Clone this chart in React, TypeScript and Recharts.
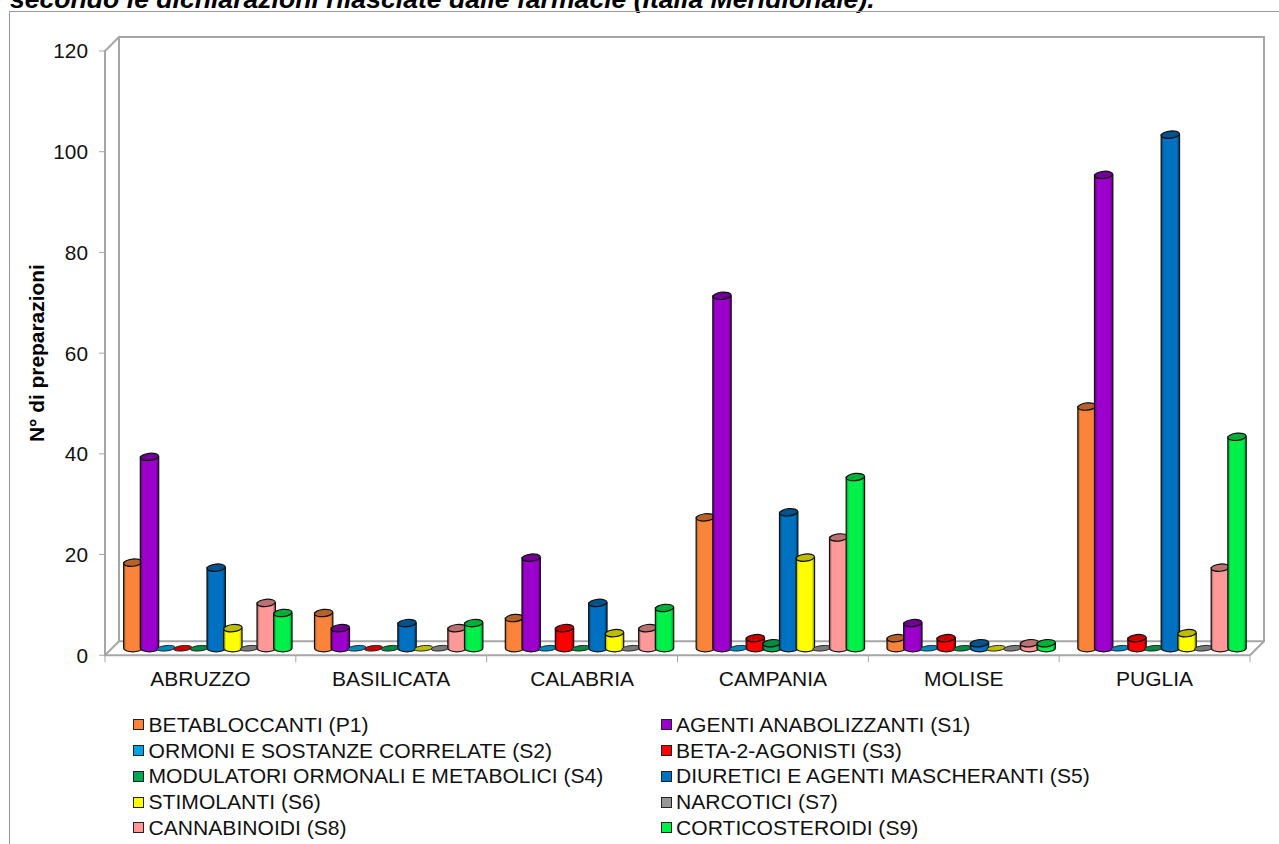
import React from "react";
import { BarChart, Bar, XAxis, YAxis, Legend, ReferenceArea, Label } from "recharts";

const regions = ["ABRUZZO", "BASILICATA", "CALABRIA", "CAMPANIA", "MOLISE", "PUGLIA"];
const yTicks = [0, 20, 40, 60, 80, 100, 120];

const p1 = [17, 7, 6, 26, 2, 48];
const s1 = [38, 4, 18, 70, 5, 94];
const s2 = [0, 0, 0, 0, 0, 0];
const s3 = [0, 0, 4, 2, 2, 2];
const s4 = [0, 0, 0, 1, 0, 0];
const s5 = [16, 5, 9, 27, 1, 102];
const s6 = [4, 0, 3, 18, 0, 3];
const s7 = [0, 0, 0, 0, 0, 0];
const s8 = [9, 4, 4, 22, 1, 16];
const s9 = [7, 5, 8, 34, 1, 42];

const seriesList = [
  { key: "p1", name: "BETABLOCCANTI (P1)", values: p1, color: "#F9843A", dark: "#B8602A", edge: "#A85A24" },
  { key: "s1", name: "AGENTI ANABOLIZZANTI (S1)", values: s1, color: "#9C00CC", dark: "#700094", edge: "#5C0078" },
  { key: "s2", name: "ORMONI E SOSTANZE CORRELATE (S2)", values: s2, color: "#00A4E4", dark: "#0088BC", edge: "#005F86" },
  { key: "s3", name: "BETA-2-AGONISTI (S3)", values: s3, color: "#FF0000", dark: "#C80000", edge: "#990000" },
  { key: "s4", name: "MODULATORI ORMONALI E METABOLICI (S4)", values: s4, color: "#00A650", dark: "#008A42", edge: "#00602E" },
  { key: "s5", name: "DIURETICI E AGENTI MASCHERANTI (S5)", values: s5, color: "#0070C0", dark: "#00528C", edge: "#004070" },
  { key: "s6", name: "STIMOLANTI (S6)", values: s6, color: "#FFFF00", dark: "#BCBC00", edge: "#999900" },
  { key: "s7", name: "NARCOTICI (S7)", values: s7, color: "#969696", dark: "#7A7A7A", edge: "#585858" },
  { key: "s8", name: "CANNABINOIDI (S8)", values: s8, color: "#FF9999", dark: "#BC7070", edge: "#985A5A" },
  { key: "s9", name: "CORTICOSTEROIDI (S9)", values: s9, color: "#00F04A", dark: "#00B036", edge: "#008C2C" },
];

const rows = regions.map((region, i) => {
  const row: Record<string, string | number> = { region };
  seriesList.forEach((s) => {
    row[s.key] = s.values[i];
  });
  return row;
});

const FONT = "'Liberation Sans', Arial, sans-serif";
const AXIS_GRAY = "#A6A6A6";
const DEPTH_X = 14;
const DEPTH_Y = 14;

// Back wall, side wall and floor of the 3D box, plus category separators.
function Box(props: any) {
  const { x, y, width, height } = props;
  const b = y + height;
  const r = x + width;
  const step = width / regions.length;
  const stroke = { stroke: AXIS_GRAY, strokeWidth: 2, fill: "none" };
  return (
    <g>
      <path
        d={`M${x} ${y} L${x + DEPTH_X} ${y - DEPTH_Y} L${r + DEPTH_X} ${y - DEPTH_Y} L${r + DEPTH_X} ${b - DEPTH_Y} L${r} ${b} L${x} ${b} Z`}
        {...stroke}
      />
      <path d={`M${x + DEPTH_X} ${y - DEPTH_Y} L${x + DEPTH_X} ${b - DEPTH_Y} L${r + DEPTH_X} ${b - DEPTH_Y}`} {...stroke} />
      <path d={`M${x} ${b} L${x + DEPTH_X} ${b - DEPTH_Y}`} {...stroke} />
      {Array.from({ length: regions.length + 1 }, (_, i) => (
        <line key={i} x1={x + step * i} x2={x + step * i} y1={b} y2={b + 7} stroke={AXIS_GRAY} strokeWidth={1} />
      ))}
    </g>
  );
}

// Cylinder standing on the floor of the box; a zero value leaves only its lid.
function Cylinder(props: any) {
  const { x, y, width, height, seriesKey } = props;
  const s = seriesList.find((d) => d.key === seriesKey)!;
  const cx = x + width / 2 + 7.5;
  const rx = (width + 1.7) / 2;
  const ry = 3.6;
  const yBase = y + height - 7;
  const yTop = y - 7;
  const tilt = `rotate(-6 ${cx} ${yTop})`;
  if (height < 1) {
    return <ellipse cx={cx} cy={yTop} rx={rx} ry={ry - 0.9} transform={tilt} fill={s.dark} stroke="#222" strokeWidth={0.9} />;
  }
  return (
    <g>
      <path
        d={`M${cx - rx} ${yTop} L${cx - rx} ${yBase} A${rx} ${ry} 0 0 0 ${cx + rx} ${yBase} L${cx + rx} ${yTop} Z`}
        fill={`url(#cyl-${s.key})`}
        stroke="#111"
        strokeWidth={1.2}
      />
      <ellipse cx={cx} cy={yTop} rx={rx} ry={ry} transform={tilt} fill={s.dark} stroke="#111" strokeWidth={1.2} />
    </g>
  );
}

function LegendGrid(props: any) {
  const items = props.payload || [];
  return (
    <div
      style={{
        display: "grid",
        gridTemplateColumns: "527.5px 600px",
        gridAutoRows: "25.75px",
        fontFamily: FONT,
        fontSize: 21.1,
        color: "#111",
      }}
    >
      {items.map((it: any) => (
        <div key={it.value} style={{ display: "flex", alignItems: "center", whiteSpace: "nowrap" }}>
          <span
            style={{
              width: 9,
              height: 9,
              background: it.color,
              border: "1.5px solid #222",
              marginRight: 4.5,
              boxSizing: "content-box",
            }}
          />
          {it.value}
        </div>
      ))}
    </div>
  );
}

export default function App() {
  return (
    <div style={{ position: "absolute", left: 0, top: 0, width: 1279, height: 844, overflow: "hidden", background: "#fff" }}>
      <div
        style={{
          position: "absolute",
          left: 10,
          top: -16,
          fontFamily: FONT,
          fontWeight: "bold",
          fontStyle: "italic",
          fontSize: 26.6,
          whiteSpace: "nowrap",
          color: "#000",
        }}
      >
        secondo le dichiarazioni rilasciate dalle farmacie (Italia Meridionale).
      </div>
      <div
        style={{
          position: "absolute",
          left: 9,
          top: 11,
          width: 1400,
          height: 1000,
          border: "1px solid #999",
        }}
      />
      <div style={{ position: "absolute", left: 0, top: 0 }}>
        <BarChart
          width={1279}
          height={844}
          data={rows}
          margin={{ top: 51, left: 0, right: 29, bottom: 20 }}
          barGap={0}
          barSize={16.67}
        >
          <defs>
            {seriesList.map((s) => (
              <linearGradient key={s.key} id={`cyl-${s.key}`} x1="0" x2="1" y1="0" y2="0">
                <stop offset="0" stopColor={s.edge} />
                <stop offset="0.14" stopColor={s.color} />
                <stop offset="0.84" stopColor={s.color} />
                <stop offset="1" stopColor={s.edge} />
              </linearGradient>
            ))}
          </defs>
          <XAxis
            dataKey="region"
            axisLine={false}
            tickLine={false}
            tickMargin={10}
            interval={0}
            tick={{ fontFamily: FONT, fontSize: 21, fill: "#111" }}
            height={40}
          />
          <YAxis
            domain={[0, 120]}
            ticks={yTicks}
            width={105}
            axisLine={false}
            tickLine={{ stroke: AXIS_GRAY, strokeWidth: 1 }}
            tickSize={6}
            tickMargin={11}
            tick={{ fontFamily: FONT, fontSize: 20.8, fill: "#111" }}
          >
            <Label
              value="N° di preparazioni"
              angle={-90}
              position="insideLeft"
              offset={37}
              style={{ fontFamily: FONT, fontSize: 20.9, fontWeight: "bold", fill: "#000", textAnchor: "middle" }}
            />
          </YAxis>
          <ReferenceArea y1={0} y2={120} shape={<Box />} ifOverflow="visible" zIndex={-1} />
          {seriesList.map((s) => (
            <Bar
              key={s.key}
              dataKey={s.key}
              name={s.name}
              fill={s.color}
              isAnimationActive={false}
              shape={(p: any) => <Cylinder {...p} seriesKey={s.key} />}
            />
          ))}
          <Legend
            content={<LegendGrid />}
            itemSorter={null}
            wrapperStyle={{ position: "absolute", left: 133, top: 712, width: 1140, bottom: "auto", right: "auto" }}
          />
        </BarChart>
      </div>
    </div>
  );
}
